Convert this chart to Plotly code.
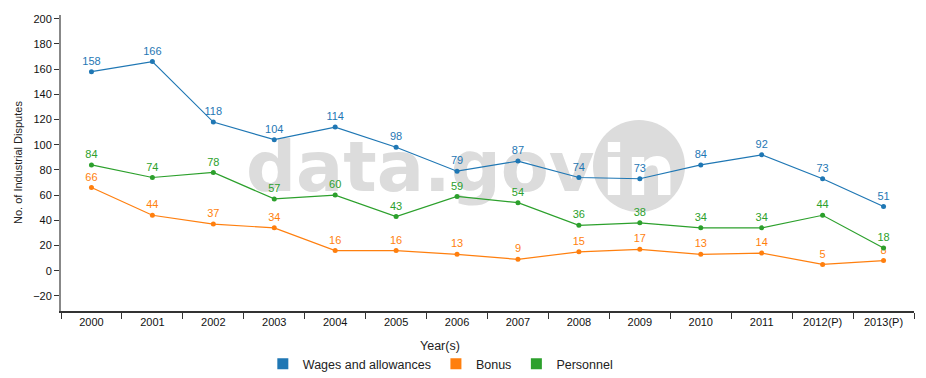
import plotly.graph_objects as go

years = ["2000", "2001", "2002", "2003", "2004", "2005", "2006", "2007",
         "2008", "2009", "2010", "2011", "2012(P)", "2013(P)"]
wages = [158, 166, 118, 104, 114, 98, 79, 87, 74, 73, 84, 92, 73, 51]
bonus = [66, 44, 37, 34, 16, 16, 13, 9, 15, 17, 13, 14, 5, 8]
personnel = [84, 74, 78, 57, 60, 43, 59, 54, 36, 38, 34, 34, 44, 18]

series = [("Wages and allowances", wages, "#1f77b4"),
          ("Bonus", bonus, "#ff7f0e"),
          ("Personnel", personnel, "#2ca02c")]

FONT = "Liberation Sans, Arial, sans-serif"
WM_FONT = "DejaVu Sans"
WM_COL = "#dcdcdc"
fig = go.Figure()

for name, vals, col in series:
    fig.add_trace(go.Scatter(
        x=years, y=vals, mode="lines+markers+text", name=name,
        line=dict(color=col, width=1.2), marker=dict(color=col, size=5),
        text=[str(v) for v in vals], textposition="top center",
        textfont=dict(color=col, size=11, family=FONT),
        showlegend=False, cliponaxis=False))

for name, vals, col in series:
    fig.add_trace(go.Scatter(
        x=[None], y=[None], mode="markers", name=name,
        marker=dict(color=col, size=11, symbol="square"), showlegend=True))

# watermark (plot area: x 61..914, y 15..311 px)
PW, PH = 853.0, 296.0
cy = (311 - 162) / PH
fig.add_shape(type="rect", xref="paper", yref="paper",
              x0=(240 - 61) / PW, x1=(640 - 61) / PW, y0=cy - 0.2, y1=cy + 0.2,
              line=dict(width=0), fillcolor="rgba(0,0,0,0)", layer="below",
              label=dict(text="<b>data.gov</b>", textposition="middle left", padding=3,
                         font=dict(size=70, color=WM_COL, family=WM_FONT)))
ccx = (639 - 61) / PW
ccy = (311 - 166) / PH
fig.add_shape(type="circle", xref="paper", yref="paper",
              x0=ccx - 46 / PW, x1=ccx + 46 / PW, y0=ccy - 46 / PH, y1=ccy + 46 / PH,
              line=dict(width=0), fillcolor=WM_COL, layer="below",
              label=dict(text="<b>in</b>", textposition="middle center",
                         font=dict(size=70, color="white", family=WM_FONT)))

fig.add_annotation(text="No. of Industrial Disputes", xref="paper", yref="paper",
                   x=(18 - 61) / PW, y=0.5, textangle=-90, showarrow=False,
                   xanchor="center", yanchor="middle",
                   font=dict(size=11, color="#222", family=FONT))
fig.add_annotation(text="Year(s)", xref="paper", yref="paper",
                   x=(440 - 61) / PW, y=(311 - 346) / PH, showarrow=False,
                   xanchor="center", yanchor="middle",
                   font=dict(size=12.5, color="#222", family=FONT))

fig.update_layout(
    width=926, height=378,
    margin=dict(l=61, r=12, t=15, b=67),
    paper_bgcolor="white", plot_bgcolor="white",
    font=dict(family=FONT, size=11, color="#333"),
    legend=dict(orientation="h", x=0.4447, xanchor="center",
                yref="container", y=1 - 364 / 378, yanchor="middle",
                font=dict(size=12.5, color="#222", family=FONT),
                itemwidth=30, tracegroupgap=0),
    xaxis=dict(type="category", range=[-0.5, 13.5], tickson="boundaries",
               ticks="outside", ticklen=6, tickcolor="#333", showgrid=False,
               showline=True, linecolor="#333", linewidth=1.5, automargin=False,
               tickfont=dict(size=11, color="#111")),
    yaxis=dict(range=[-32, 203], tickvals=list(range(-20, 201, 20)),
               ticks="outside", ticklen=5, tickcolor="#333", showgrid=False,
               zeroline=False, showline=True, linecolor="#888", linewidth=2,
               automargin=False,
               tickfont=dict(size=11, color="#111")),
)

fig.write_html("out.html", config={"displayModeBar": False},
               post_script="document.body.style.margin='0';")
